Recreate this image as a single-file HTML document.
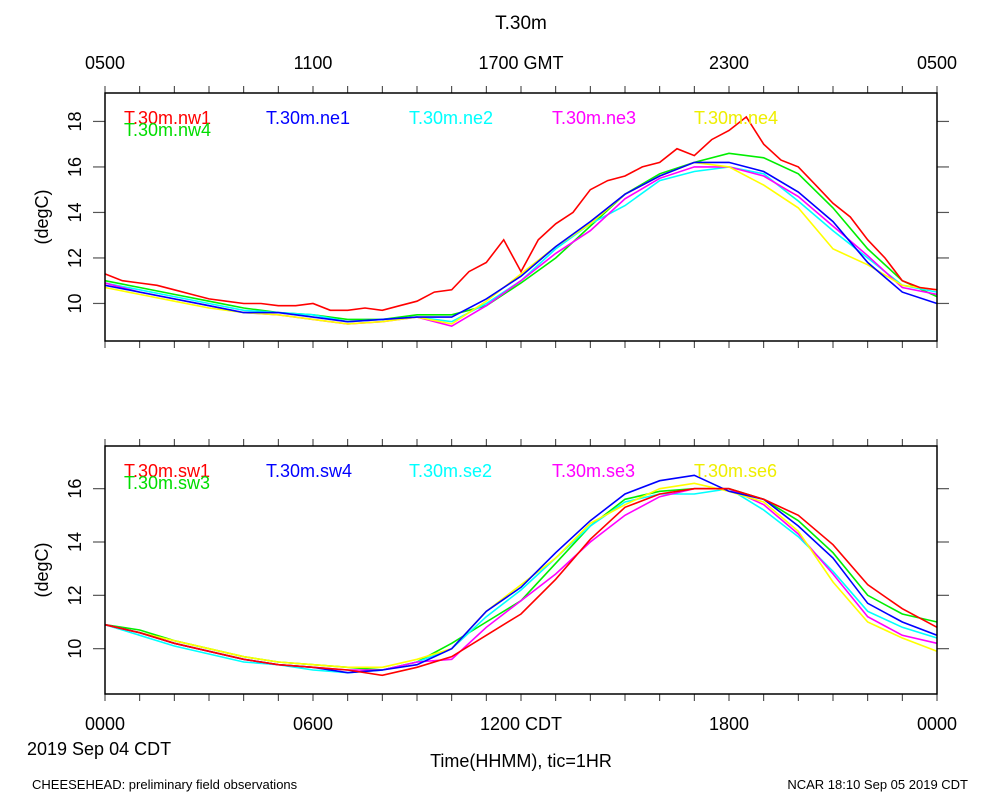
<!DOCTYPE html>
<html><head><meta charset="utf-8"><style>
body{margin:0;background:#fff}
svg text{font-family:"Liberation Sans",sans-serif;fill:#000}
</style></head><body>
<svg id="c" width="1000" height="800" viewBox="0 0 1000 800" xmlns="http://www.w3.org/2000/svg">
<text x="521" y="29" font-size="19" text-anchor="middle">T.30m</text>
<g id="g"></g>
<text x="105" y="730" font-size="18" text-anchor="middle">0000</text>
<text x="313" y="730" font-size="18" text-anchor="middle">0600</text>
<text x="521" y="730" font-size="18" text-anchor="middle">1200 CDT</text>
<text x="729" y="730" font-size="18" text-anchor="middle">1800</text>
<text x="937" y="730" font-size="18" text-anchor="middle">0000</text>
<text x="105" y="69" font-size="18" text-anchor="middle">0500</text>
<text x="313" y="69" font-size="18" text-anchor="middle">1100</text>
<text x="521" y="69" font-size="18" text-anchor="middle">1700 GMT</text>
<text x="729" y="69" font-size="18" text-anchor="middle">2300</text>
<text x="937" y="69" font-size="18" text-anchor="middle">0500</text>
<text x="27" y="755" font-size="18">2019 Sep 04 CDT</text>
<text x="521" y="767" font-size="18" text-anchor="middle">Time(HHMM), tic=1HR</text>
<text x="32" y="789" font-size="13">CHEESEHEAD: preliminary field observations</text>
<text x="968" y="789" font-size="13" text-anchor="end">NCAR 18:10 Sep 05 2019 CDT</text>
</svg>
<script>
const hours=[0,1,2,3,4,5,6,7,8,9,10,11,12,13,14,15,16,17,18,19,20,21,22,23,24];
const redHours=[0,0.5,1,1.5,2,2.5,3,3.5,4,4.5,5,5.5,6,6.5,7,7.5,8,8.5,9,9.5,10,10.5,11,11.5,12,12.5,13,13.5,14,14.5,15,15.5,16,16.5,17,17.5,18,18.5,19,19.5,20,20.5,21,21.5,22,22.5,23,23.5,24];
const nw1=[11.3,11.0,10.9,10.8,10.6,10.4,10.2,10.1,10.0,10.0,9.9,9.9,10.0,9.7,9.7,9.8,9.7,9.9,10.1,10.5,10.6,11.4,11.8,12.8,11.4,12.8,13.5,14.0,15.0,15.4,15.6,16.0,16.2,16.8,16.5,17.2,17.6,18.2,17.0,16.3,16.0,15.2,14.4,13.8,12.8,12.0,11.0,10.7,10.6];
const ne1=[10.8,10.5,10.2,9.9,9.6,9.6,9.4,9.2,9.3,9.4,9.4,10.2,11.2,12.5,13.6,14.8,15.6,16.2,16.2,15.8,14.9,13.6,11.8,10.5,10.0];
const ne2=[10.9,10.6,10.3,10.0,9.7,9.6,9.5,9.2,9.3,9.4,9.2,10.0,11.0,12.4,13.5,14.3,15.4,15.8,16.0,15.7,14.5,13.2,12.0,10.8,10.5];
const ne3=[10.9,10.5,10.2,9.9,9.6,9.5,9.3,9.1,9.2,9.4,9.0,9.9,11.0,12.2,13.2,14.6,15.5,16.0,16.0,15.6,14.7,13.4,12.1,10.7,10.4];
const ne4=[10.7,10.4,10.1,9.8,9.6,9.5,9.3,9.1,9.2,9.4,9.1,10.1,11.3,12.5,13.5,14.8,15.6,16.2,16.0,15.2,14.2,12.4,11.7,10.8,10.6];
const nw4=[11.0,10.7,10.4,10.1,9.8,9.6,9.5,9.3,9.3,9.5,9.5,9.9,10.9,12.0,13.4,14.8,15.7,16.2,16.6,16.4,15.7,14.2,12.4,11.0,10.3];
const sw1=[10.9,10.6,10.2,9.9,9.6,9.4,9.3,9.2,9.0,9.3,9.7,10.5,11.3,12.6,14.1,15.3,15.8,16.0,16.0,15.6,15.0,13.9,12.4,11.5,10.8];
const sw4=[10.9,10.6,10.2,9.9,9.6,9.4,9.3,9.1,9.2,9.4,10.0,11.4,12.3,13.6,14.8,15.8,16.3,16.5,15.9,15.6,14.6,13.4,11.7,11.0,10.5];
const se2=[10.9,10.5,10.1,9.8,9.5,9.4,9.2,9.1,9.2,9.5,10.0,11.2,12.2,13.4,14.6,15.5,15.8,15.8,16.0,15.2,14.2,12.9,11.4,10.8,10.4];
const se3=[10.9,10.6,10.2,9.9,9.6,9.4,9.3,9.2,9.2,9.5,9.6,10.8,11.8,12.8,14.0,15.0,15.7,16.0,16.0,15.4,14.3,12.8,11.2,10.5,10.2];
const se6=[10.9,10.6,10.3,10.0,9.7,9.5,9.4,9.3,9.3,9.6,10.0,11.4,12.4,13.4,14.7,15.4,16.0,16.2,15.9,15.5,14.4,12.5,11.0,10.4,9.9];
const sw3=[10.9,10.7,10.3,10.0,9.7,9.5,9.4,9.3,9.2,9.5,10.2,11.0,11.8,13.2,14.6,15.6,15.9,16.0,16.0,15.6,14.8,13.6,12.0,11.3,11.0];
const topTicks=[10,12,14,16,18];
const botTicks=[10,12,14,16];

const svg=document.getElementById('c');const g=document.getElementById('g');
const NS='http://www.w3.org/2000/svg';
function mk(t,a){const e=document.createElementNS(NS,t);for(const k in a)e.setAttribute(k,a[k]);g.appendChild(e);return e;}
const X0=105,X1=937;
function xs(h){return X0+(X1-X0)*h/24;}
function panel(name,y0,y1,tLo,tHi,ticks,series,legend){
  const ys=v=>y1-(v-tLo)/(tHi-tLo)*(y1-y0);
  for(let h=0;h<=24;h++){
    const a=mk('line',{x1:xs(h),x2:xs(h),y1:y0,y2:y0-7,stroke:'#333','stroke-width':1});
    
    
    const b=mk('line',{x1:xs(h),x2:xs(h),y1:y1,y2:y1+7,stroke:'#333','stroke-width':1});
    
    
  }
  ticks.forEach(v=>{
    const a=mk('line',{x1:X0,x2:X0-12,y1:ys(v),y2:ys(v),stroke:'#555','stroke-width':1.2});
    
    
    const b=mk('line',{x1:X1,x2:X1+12,y1:ys(v),y2:ys(v),stroke:'#555','stroke-width':1.2});
    
    
    const yy=ys(v);
    const t2=mk('text',{x:81,y:yy,'font-size':18,'text-anchor':'middle',transform:`rotate(-90 81 ${yy})`});
    t2.textContent=v;
    
    
  });
  const yl=mk('text',{x:48,y:(y0+y1)/2,'font-size':18,'text-anchor':'middle',transform:`rotate(-90 48 ${(y0+y1)/2})`});
  yl.textContent='(degC)';
  
  
  series.forEach(s=>{
    const p=s.d.map((v,i)=>xs(s.h[i]).toFixed(1)+','+ys(v).toFixed(1)).join(' ');
    const l=mk('polyline',{points:p,fill:'none',stroke:s.c,'stroke-width':1.6});
    
    
  });
  const f=mk('rect',{x:X0,y:y0,width:X1-X0,height:y1-y0,fill:'none',stroke:'#000','stroke-width':1.5});
  
  
  legend.forEach(s=>{
    const t=mk('text',{x:s.x,y:y0+s.dy,'font-size':18,style:'fill:'+s.c});
    t.textContent=s.t;
    
    
  });
}
panel('top-panel',93,341,8.35,19.25,topTicks,[
 {n:'nw4',c:'#00ee00',d:nw4,h:hours},{n:'ne2',c:'#00ffff',d:ne2,h:hours},{n:'ne3',c:'#ff00ff',d:ne3,h:hours},
 {n:'ne4',c:'#ffff00',d:ne4,h:hours},{n:'ne1',c:'#0000ff',d:ne1,h:hours},{n:'nw1',c:'#ff0000',d:nw1,h:redHours}
],[
 {t:'T.30m.nw1',c:'#ff0000',x:124,dy:31},{t:'T.30m.nw4',c:'#00dd00',x:124,dy:43},
 {t:'T.30m.ne1',c:'#0000ff',x:266,dy:31},{t:'T.30m.ne2',c:'#00ffff',x:409,dy:31},
 {t:'T.30m.ne3',c:'#ff00ff',x:552,dy:31},{t:'T.30m.ne4',c:'#eeee00',x:694,dy:31}
]);
panel('bottom-panel',446,694,8.3,17.6,botTicks,[
 {n:'sw3',c:'#00ee00',d:sw3,h:hours},{n:'se2',c:'#00ffff',d:se2,h:hours},{n:'se3',c:'#ff00ff',d:se3,h:hours},
 {n:'se6',c:'#ffff00',d:se6,h:hours},{n:'sw4',c:'#0000ff',d:sw4,h:hours},{n:'sw1',c:'#ff0000',d:sw1,h:hours}
],[
 {t:'T.30m.sw1',c:'#ff0000',x:124,dy:31},{t:'T.30m.sw3',c:'#00dd00',x:124,dy:43},
 {t:'T.30m.sw4',c:'#0000ff',x:266,dy:31},{t:'T.30m.se2',c:'#00ffff',x:409,dy:31},
 {t:'T.30m.se3',c:'#ff00ff',x:552,dy:31},{t:'T.30m.se6',c:'#eeee00',x:694,dy:31}
]);
</script>
</body></html>
